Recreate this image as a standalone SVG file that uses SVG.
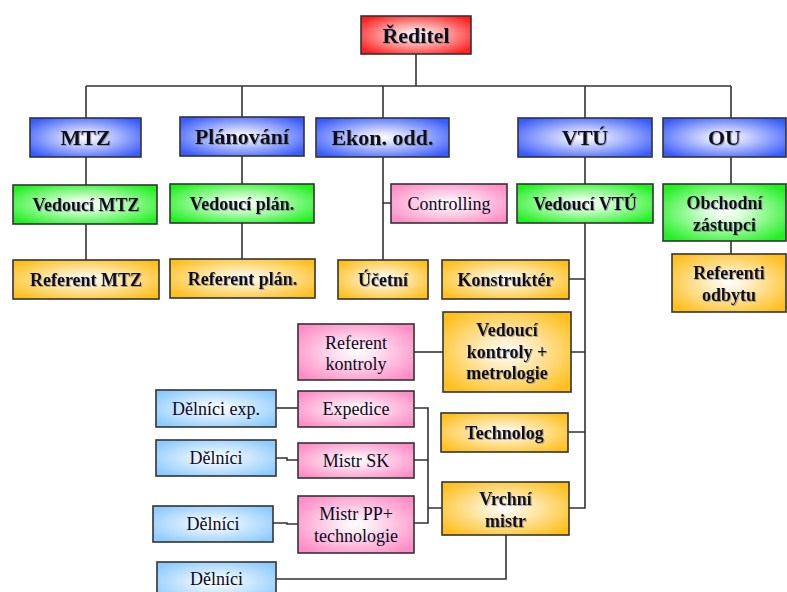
<svg xmlns="http://www.w3.org/2000/svg" width="787" height="592" viewBox="0 0 787 592" font-family="'Liberation Serif', 'DejaVu Serif', serif">
<defs>
<radialGradient id="gRed" cx="0.5" cy="0.5" r="0.62"><stop offset="0" stop-color="#ffffff"/><stop offset="0.25" stop-color="#ffd0d0"/><stop offset="1" stop-color="#ff1f1f"/></radialGradient>
<radialGradient id="gBlue" cx="0.5" cy="0.5" r="0.62"><stop offset="0" stop-color="#ffffff"/><stop offset="0.25" stop-color="#d6dcff"/><stop offset="1" stop-color="#3a5cff"/></radialGradient>
<radialGradient id="gGreen" cx="0.5" cy="0.5" r="0.62"><stop offset="0" stop-color="#ffffff"/><stop offset="0.25" stop-color="#d8ffd8"/><stop offset="1" stop-color="#22f022"/></radialGradient>
<radialGradient id="gOrange" cx="0.5" cy="0.5" r="0.62"><stop offset="0" stop-color="#ffffff"/><stop offset="0.25" stop-color="#fff0cc"/><stop offset="1" stop-color="#ffc01e"/></radialGradient>
<radialGradient id="gPink" cx="0.5" cy="0.5" r="0.62"><stop offset="0" stop-color="#ffffff"/><stop offset="0.25" stop-color="#ffe6f2"/><stop offset="1" stop-color="#ff8cc6"/></radialGradient>
<radialGradient id="gLight" cx="0.5" cy="0.5" r="0.62"><stop offset="0" stop-color="#ffffff"/><stop offset="0.25" stop-color="#e6f3ff"/><stop offset="1" stop-color="#8ccaff"/></radialGradient>
<filter id="ts" x="-10%" y="-30%" width="120%" height="160%"><feDropShadow dx="1" dy="1" stdDeviation="0.7" flood-color="#777" flood-opacity="0.6"/></filter>
</defs>
<style>
.n rect{stroke:#333;stroke-width:1.6}
.red{fill:url(#gRed)}.blue{fill:url(#gBlue)}.green{fill:url(#gGreen)}.orange{fill:url(#gOrange)}.pink{fill:url(#gPink)}.light{fill:url(#gLight)}
.n text{font-family:'Liberation Serif','DejaVu Serif',serif;text-anchor:middle;fill:#0a0a1e}
.b22{font-size:22px;font-weight:bold;filter:url(#ts)}
.b18{font-size:18px;font-weight:bold;filter:url(#ts)}
.r18{font-size:18px;fill:#1a1a3a}
#connectors path{fill:none;stroke:#333;stroke-width:1.6}
</style>
<rect width="787" height="592" fill="#fff"/>
<g id="connectors">
<path d="M416,54 V86"/>
<path d="M86,86 H731"/>
<path d="M86,86 V118 M242,86 V117 M383,86 V118 M585,86 V118 M731,86 V118"/>
<path d="M86,157 V185 M86,224 V260"/>
<path d="M242,156 V184 M242,223 V259"/>
<path d="M383,157 V260 M383,203 H391"/>
<path d="M585,157 V184 M585,223 V508 H569 M569,279 H585 M571,352 H585 M568,432 H585"/>
<path d="M731,157 V184 M731,241 V254"/>
<path d="M414,352 H443"/>
<path d="M276,408 H298"/>
<path d="M276,458 H287 V460 H298"/>
<path d="M273,523 H287 V524 H298"/>
<path d="M414,408 H428 V523 H414 M414,460 H428 M428,508 H442"/>
<path d="M506,535 V579 H276"/>
</g>
<g id="reditel" class="n"><rect class="red" x="361" y="16" width="110" height="38"/><text class="b22" x="416" y="43">Ředitel</text></g>
<g id="mtz" class="n"><rect class="blue" x="30" y="118" width="111" height="39"/><text class="b22" x="85.5" y="145">MTZ</text></g>
<g id="planovani" class="n"><rect class="blue" x="180" y="117" width="124" height="39"/><text class="b22" x="242" y="144">Plánování</text></g>
<g id="ekon" class="n"><rect class="blue" x="316" y="118" width="133" height="39"/><text class="b22" x="382.5" y="145">Ekon. odd.</text></g>
<g id="vtu" class="n"><rect class="blue" x="518" y="118" width="134" height="39"/><text class="b22" x="585" y="145">VTÚ</text></g>
<g id="ou" class="n"><rect class="blue" x="663" y="118" width="123" height="39"/><text class="b22" x="724.5" y="145">OU</text></g>
<g id="vedouci-mtz" class="n"><rect class="green" x="13" y="185" width="144" height="39"/><text class="b18" x="86" y="210.5">Vedoucí MTZ</text></g>
<g id="vedouci-plan" class="n"><rect class="green" x="170" y="184" width="144" height="39"/><text class="b18" x="242" y="209.5">Vedoucí plán.</text></g>
<g id="controlling" class="n"><rect class="pink" x="391" y="184" width="116" height="39"/><text class="r18" x="449" y="209.5">Controlling</text></g>
<g id="vedouci-vtu" class="n"><rect class="green" x="517" y="184" width="136" height="39"/><text class="b18" x="585" y="209.5">Vedoucí VTÚ</text></g>
<g id="obchodni" class="n"><rect class="green" x="663" y="184" width="123" height="57"/><text class="b18" x="724.5" y="209">Obchodní</text><text class="b18" x="724.5" y="231">zástupci</text></g>
<g id="referent-mtz" class="n"><rect class="orange" x="13" y="260" width="146" height="39"/><text class="b18" x="86" y="285.5">Referent MTZ</text></g>
<g id="referent-plan" class="n"><rect class="orange" x="170" y="259" width="145" height="39"/><text class="b18" x="242.5" y="284.5">Referent plán.</text></g>
<g id="ucetni" class="n"><rect class="orange" x="338" y="260" width="90" height="39"/><text class="b18" x="383" y="285.5">Účetní</text></g>
<g id="konstrukter" class="n"><rect class="orange" x="442" y="260" width="127" height="39"/><text class="b18" x="505.5" y="285.5">Konstruktér</text></g>
<g id="referenti-odbytu" class="n"><rect class="orange" x="672" y="254" width="114" height="58"/><text class="b18" x="729" y="279">Referenti</text><text class="b18" x="729" y="301">odbytu</text></g>
<g id="referent-kontroly" class="n"><rect class="pink" x="298" y="324" width="116" height="56"/><text class="r18" x="356" y="349">Referent</text><text class="r18" x="356" y="370">kontroly</text></g>
<g id="vedouci-kontroly" class="n"><rect class="orange" x="443" y="312" width="128" height="80"/><text class="b18" x="507" y="336">Vedoucí</text><text class="b18" x="507" y="358">kontroly +</text><text class="b18" x="507" y="379">metrologie</text></g>
<g id="technolog" class="n"><rect class="orange" x="441" y="413" width="127" height="39"/><text class="b18" x="504.5" y="438.5">Technolog</text></g>
<g id="expedice" class="n"><rect class="pink" x="298" y="391" width="116" height="36"/><text class="r18" x="356" y="415">Expedice</text></g>
<g id="delnici-exp" class="n"><rect class="light" x="156" y="390" width="120" height="37"/><text class="r18" x="216" y="414.5">Dělníci exp.</text></g>
<g id="mistr-sk" class="n"><rect class="pink" x="298" y="443" width="116" height="35"/><text class="r18" x="356" y="466.5">Mistr SK</text></g>
<g id="delnici-1" class="n"><rect class="light" x="156" y="440" width="120" height="36"/><text class="r18" x="216" y="464">Dělníci</text></g>
<g id="mistr-pp" class="n"><rect class="pink" x="298" y="496" width="116" height="57"/><text class="r18" x="356" y="520">Mistr PP+</text><text class="r18" x="356" y="542">technologie</text></g>
<g id="delnici-2" class="n"><rect class="light" x="153" y="506" width="120" height="36"/><text class="r18" x="213" y="530">Dělníci</text></g>
<g id="vrchni-mistr" class="n"><rect class="orange" x="442" y="482" width="127" height="53"/><text class="b18" x="505.5" y="505">Vrchní</text><text class="b18" x="505.5" y="527">mistr</text></g>
<g id="delnici-3" class="n"><rect class="light" x="157" y="562" width="119" height="40"/><text class="r18" x="216.5" y="585">Dělníci</text></g>
</svg>
